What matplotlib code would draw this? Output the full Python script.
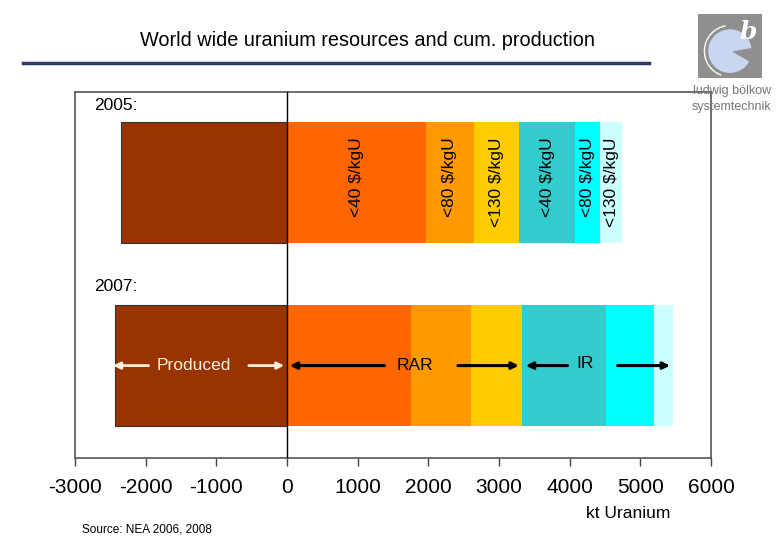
import matplotlib
matplotlib.use("Agg")
import matplotlib.pyplot as plt
from matplotlib.patches import Rectangle, Wedge, Arc
import numpy as np

plt.rcParams['font.family'] = ['Liberation Sans', 'DejaVu Sans']

# ---- data ----
years = ["2005:", "2007:"]
produced = [2350, 2430]                       # cumulative production (kt U), drawn to the left
seg_labels = ["<40 $/kgU", "<80 $/kgU", "<130 $/kgU", "<40 $/kgU", "<80 $/kgU", "<130 $/kgU"]
seg_2005 = [1960, 680, 650, 790, 350, 310]    # RAR (3 classes) then IR (3 classes)
seg_2007 = [1750, 850, 720, 1200, 670, 270]
seg_colors = ["#FF6600", "#FF9900", "#FFCC00", "#33CCCC", "#00FFFF", "#CCFFFF"]
xticks = [-3000, -2000, -1000, 0, 1000, 2000, 3000, 4000, 5000, 6000]

fig = plt.figure(figsize=(7.8, 5.4), dpi=100)
ax = fig.add_axes([75/780, 1-458/540, (711-75)/780, (458-92)/540])

bar_h = 0.66
ypos = [0, 1]
for yi, prod, segs in zip(ypos, produced, [seg_2005, seg_2007]):
    ax.barh(yi, -prod, left=0, height=bar_h, color="#993300", edgecolor="#333333", linewidth=0.8, zorder=2)
    left = 0
    for v, c in zip(segs, seg_colors):
        ax.barh(yi, v, left=left, height=bar_h, color=c, edgecolor="none", zorder=2)
        left += v

# vertical labels for 2005 segments
left = 0
for v, lab in zip(seg_2005, seg_labels):
    ax.text(left + v/2, -bar_h/2 + 0.082, lab, rotation=90, ha="center", va="top",
            fontsize=12.5, color="black", zorder=4)
    left += v

# year labels
ax.text(-2730, -0.42, years[0], fontsize=12.5, va="center", ha="left")
ax.text(-2730, 0.57, years[1], fontsize=12.5, va="center", ha="left")

# annotations on 2007 bar
ya = 1.0
wc = "#FFF0E0"
ax.annotate("", xy=(-2500, ya), xytext=(-1920, ya),
            arrowprops=dict(arrowstyle="-|>", color=wc, lw=2, mutation_scale=10), zorder=5)
ax.text(-1320, ya, "Produced", color=wc, fontsize=12.5, ha="center", va="center", zorder=5)
ax.annotate("", xy=(0, ya), xytext=(-580, ya),
            arrowprops=dict(arrowstyle="-|>", color=wc, lw=2, mutation_scale=10), zorder=5)

ax.annotate("", xy=(0, ya), xytext=(1420, ya),
            arrowprops=dict(arrowstyle="-|>", color="black", lw=2.2, mutation_scale=10), zorder=5)
ax.text(1810, ya, "RAR", color="black", fontsize=12.5, ha="center", va="center", zorder=5)
ax.annotate("", xy=(3320, ya), xytext=(2380, ya),
            arrowprops=dict(arrowstyle="-|>", color="black", lw=2.2, mutation_scale=10), zorder=5)
ax.annotate("", xy=(3340, ya), xytext=(4010, ya),
            arrowprops=dict(arrowstyle="-|>", color="black", lw=2.2, mutation_scale=10), zorder=5)
ax.text(4220, ya - 0.01, "IR", color="black", fontsize=12.5, ha="center", va="center", zorder=5)
ax.annotate("", xy=(5460, ya), xytext=(4640, ya),
            arrowprops=dict(arrowstyle="-|>", color="black", lw=2.2, mutation_scale=10), zorder=5)

ax.axvline(0, color="black", lw=1, zorder=3)

ax.set_xlim(-3000, 6000)
ax.set_ylim(1.505, -0.495)
ax.set_xticks(xticks)
ax.set_xticklabels([str(t) for t in xticks], fontsize=15)
ax.set_yticks([])
ax.tick_params(axis="x", direction="out", length=6, width=1, color="#444444", pad=8.5)
for s in ax.spines.values():
    s.set_color("#555555")
    s.set_linewidth(1.2)

# title and decorations
fig.text(367/780, 1-40/540, "World wide uranium resources and cum. production",
         ha="center", va="center", fontsize=14.3)
fig.add_artist(plt.Line2D([23/780, 649/780], [1-63/540, 1-63/540], color="#2E3A66", lw=2.5))
fig.text(628/780, 1-514/540, "kt Uranium", ha="center", va="center", fontsize=12.5)
fig.text(82/780, 1-529/540, "Source: NEA 2006, 2008", ha="left", va="center", fontsize=8.5)

# logo
lax = fig.add_axes([698/780, 1-78/540, 64/780, 64/540])
lax.set_xlim(0, 1); lax.set_ylim(0, 1); lax.axis("off")
lax.add_patch(Rectangle((0, 0), 1, 1, color="#8F8F8F"))
lax.add_patch(Wedge((0.5, 0.42), 0.33, 10, 330, color="#C8D6F0"))
lax.add_patch(Arc((0.5, 0.42), 0.8, 0.8, theta1=100, theta2=250, color="white", lw=1))
lax.text(0.78, 0.72, "b", color="white", fontsize=18, family="DejaVu Serif",
         style="italic", fontweight="bold", ha="center", va="center")
fig.text(732/780, 1-91/540, "ludwig bölkow", ha="center", va="center", fontsize=9, color="#777777")
fig.text(732/780, 1-107/540, "systemtechnik", ha="center", va="center", fontsize=9, color="#777777")

fig.savefig("out.png", dpi=100)
